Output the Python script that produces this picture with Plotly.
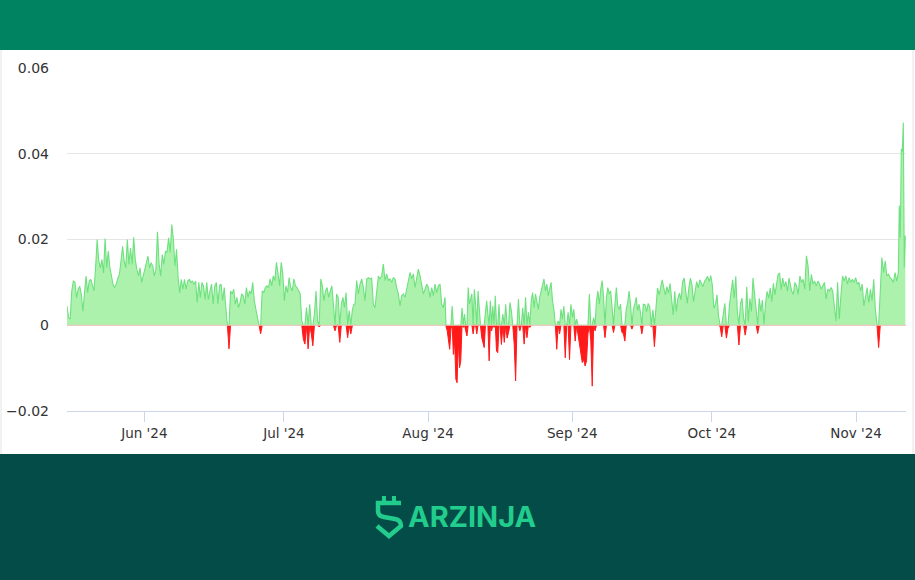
import pandas as pd
import plotly.graph_objects as go

# funding rate readings, one list per stretch of the chart
may_jun = [
    0.0045, 0.0018, 0.0014, 0.008, 0.0103, 0.010, 0.0064, 0.0084, 0.0091, 0.0072,
    0.0033, 0.008, 0.0115, 0.0076, 0.0103, 0.0107, 0.0095, 0.008, 0.0134, 0.020,
    0.015, 0.0134, 0.0153, 0.0122, 0.0202, 0.0134, 0.0173, 0.0134, 0.0115, 0.0095,
    0.0088, 0.0095, 0.011, 0.0118, 0.015, 0.0184, 0.015, 0.0134, 0.020, 0.0142,
    0.018, 0.0142, 0.0205, 0.0153, 0.013, 0.0115, 0.0134, 0.010, 0.0115, 0.013,
    0.0142, 0.0161, 0.0134, 0.0146, 0.0138, 0.0115, 0.013, 0.0218, 0.0142, 0.0115,
    0.0165, 0.0142, 0.0173, 0.017, 0.0204, 0.017, 0.0235, 0.020, 0.0138, 0.0177,
    0.011, 0.0076, 0.0107, 0.0084, 0.0107, 0.0084, 0.0103, 0.0107, 0.010, 0.0103,
    0.0095, 0.0103, 0.0053, 0.010, 0.0064, 0.010, 0.0091, 0.006, 0.010, 0.006,
]
jun_jul = [
    0.008, 0.0096, 0.0049, 0.0092, 0.010, 0.0049, 0.0092, 0.0096, 0.0057, 0.0088,
    0.0041, 0.0, -0.0055, 0.008, 0.0073, 0.0084, 0.0049, 0.0065, 0.0041, 0.0053,
    0.0073, 0.0069, 0.0049, 0.0088, 0.0065, 0.008, 0.0073, 0.010, 0.0057, 0.0041,
    0.0018, 0.0, -0.002, 0.008, 0.0076, 0.0088, 0.0092, 0.0088, 0.0108, 0.0092,
    0.0115, 0.0104, 0.0147, 0.012, 0.0092, 0.0147, 0.012, 0.0057, 0.0092, 0.0076,
    0.0111, 0.0088, 0.008, 0.0108, 0.0092, 0.0088, 0.008, 0.0073, 0.001, -0.0033,
    -0.0044, 0.0041, -0.0055, 0.0049, -0.002, -0.0048, 0.0026, 0.008, 0.001, -0.0004,
    0.0108, 0.0092, 0.0057, 0.008, 0.0088, 0.0065, 0.008, 0.0092, 0.0049, -0.0013,
    0.0073, 0.0065, -0.004, 0.0049, 0.0065, 0.0041, 0.0076, -0.0029, 0.0034, -0.002,
    0.0037, 0.0049,
]
jul_aug = [
    0.0049, 0.0104, 0.0073, 0.0096, 0.0108, 0.0088, 0.0057, 0.0108, 0.0111, 0.0108,
    0.011, 0.0049, 0.0041, 0.008, 0.0115, 0.0108, 0.0115, 0.0143, 0.0104, 0.012,
    0.0104, 0.0108, 0.010, 0.0111, 0.0108, 0.0088, 0.0073, 0.0045, 0.0069, 0.0073,
    0.0065, 0.0084, 0.0104, 0.0123, 0.0108, 0.012, 0.0088, 0.0108, 0.0131, 0.0115,
    0.0096, 0.0073, 0.0084, 0.0096, 0.0088, 0.0065, 0.0088, 0.0069, 0.0096, 0.0076,
    0.0092, 0.0096, 0.0049, 0.0041, 0.0065,
]
aug_dip = [
    -0.0002, -0.0013, -0.0037, -0.0056, -0.0009, 0.0045, -0.0068, -0.0037, -0.0126, -0.0134,
    -0.0037, -0.0099, -0.0083, 0.0041, -0.0005, 0.0026, -0.0013, -0.0025, 0.0088, 0.0049,
    0.0065, 0.0073, -0.002, 0.0084, 0.0049, -0.002, 0.008, 0.0041, -0.0002, -0.0029,
    -0.0044, -0.0052, 0.003, 0.0057, 0.0026, -0.0083, 0.0057, -0.0013, 0.0045, -0.0005,
    0.0069, -0.006, -0.0064, 0.0049,
]
aug_sep = [
    0.0, -0.0045, 0.0026, -0.004, 0.0049, -0.003, -0.0017, 0.0053, 0.0034, 0.0,
    -0.0044, -0.013, 0.0, 0.0061, -0.0013, 0.0, 0.0041, -0.0044, 0.0065, -0.0029,
    0.003, -0.0005, 0.0057, 0.0076, 0.0041, 0.0073, 0.0057, 0.0037, 0.0065, 0.008,
    0.0096, 0.0108, 0.008, 0.0096, 0.0069, 0.0088, 0.010, 0.0057, 0.0037, 0.0,
    -0.0056, 0.001, -0.002, 0.0037, 0.0014, 0.0045, -0.0076, 0.0, 0.003, -0.008,
    0.0049, 0.0018, 0.0037, -0.0037, 0.0014, -0.002, -0.004, -0.0068, -0.0087, -0.008,
    -0.0095, -0.0083, -0.002, 0.0073, -0.0037, -0.0142, 0.0018, -0.0013, 0.0057, 0.008,
    0.0049, 0.0084, 0.0104, 0.0065, -0.0029, 0.0065, 0.0088, 0.0073, 0.008, 0.0041,
    -0.0017, 0.0049, 0.0088, 0.0045, 0.0037, 0.0049, -0.0017, -0.002, -0.0037, 0.0037,
    0.0053, 0.008, 0.0049, -0.0009, 0.0037, 0.0049, 0.0065, 0.0034, 0.0049, 0.003,
    -0.002, 0.0049,
]
sep_oct = [
    0.0048, 0.0032, 0.0051, 0.0044, -0.0003, 0.0036, -0.005, 0.004, 0.0087, 0.0071,
    0.0087, 0.0106, 0.0087, 0.0071, 0.009, 0.0075, 0.0098, 0.0063, 0.0024, 0.0079,
    0.0032, 0.0063, 0.0075, 0.0059, 0.0102, 0.011, 0.0075, 0.0051, 0.0087, 0.011,
    0.0094, 0.0055, 0.0079, 0.0102, 0.0087, 0.0106, 0.0098, 0.009, 0.0102, 0.011,
    0.0114, 0.0102, 0.0116, 0.0094, 0.004, 0.0048, 0.0071, 0.002, -0.0003, -0.0027,
    0.0032, 0.0051, -0.003, -0.0007, 0.0048, 0.0079, 0.0106, 0.0063, 0.0114, 0.0032,
    -0.0046, 0.0051, 0.0063, 0.0016, -0.0023, 0.009, 0.0009, 0.0063, 0.0032, 0.011,
    0.0071, 0.0028, -0.0019, 0.0063, 0.0032, 0.0059, 0.0001, 0.0051, 0.0079, 0.0063,
    0.0087, 0.0055, 0.0098, 0.0071, 0.009, 0.0118, 0.0122, 0.0083, 0.011, 0.009,
    0.0102, 0.0079, 0.011,
]
oct_nov = [
    0.010, 0.008, 0.0072, 0.010, 0.0092, 0.0072, 0.0115, 0.010, 0.0107, 0.0084,
    0.0162, 0.0138, 0.008, 0.0119, 0.0096, 0.0103, 0.0092, 0.0103, 0.0096, 0.0084,
    0.0092, 0.010, 0.0061, 0.0084, 0.008, 0.0088, 0.008, 0.0037, 0.001, 0.010,
    0.0014, 0.0068, 0.0115, 0.0103, 0.0115, 0.0096, 0.0111, 0.010, 0.0107, 0.010,
    0.0111, 0.0096, 0.010, 0.008, 0.0096, 0.0045, 0.0068, 0.0088, 0.0053, 0.0084,
    0.0057, 0.0107, 0.0037, 0.0002, -0.0052, 0.0068, 0.0158, 0.0123, 0.015, 0.0115,
    0.0119, 0.0111, 0.0107, 0.010, 0.0123, 0.0103, 0.0123,
]
nov_spike = [0.0279, 0.0205, 0.0411, 0.0405, 0.0473, 0.0135, 0.0209]

# first and last timestamp of each stretch
periods = [
    ("2024-05-15 09:00", "2024-06-14 18:00", may_jun),
    ("2024-06-15 02:45", "2024-07-16 01:35", jun_jul),
    ("2024-07-16 06:50", "2024-08-04 15:15", jul_aug),
    ("2024-08-04 20:15", "2024-08-16 05:40", aug_dip),
    ("2024-08-16 10:55", "2024-09-16 06:05", aug_sep),
    ("2024-09-16 15:00", "2024-10-17 13:50", sep_oct),
    ("2024-10-17 19:00", "2024-11-10 01:50", oct_nov),
    ("2024-11-10 06:50", "2024-11-11 13:50", nov_spike),
]
x_start, x_end = "2024-05-15 09:00", "2024-11-11 17:25"

times = []
rates = []
for start, end, vals in periods:
    times.extend(pd.date_range(start, end, periods=len(vals)))
    rates.extend(vals)

positive = [r if r > 0 else 0 for r in rates]
negative = []
for i, r in enumerate(rates):
    if r < 0:
        negative.append(r)
    elif (i > 0 and rates[i - 1] < 0) or (i + 1 < len(rates) and rates[i + 1] < 0):
        negative.append(0)
    else:
        negative.append(None)

W, H = 915, 580
ML, MR, MT, MB = 67, 9, 68, 169


def px_x(x):
    return (x - ML) / (W - ML - MR)


def px_y(y):
    return (H - MB - y) / (H - MT - MB)


fig = go.Figure()
fig.add_trace(
    go.Scatter(
        x=times,
        y=positive,
        mode="lines",
        line=dict(color="#6fe080", width=1.1),
        fill="tozeroy",
        fillcolor="rgba(144,238,144,0.75)",
        hoverinfo="skip",
    )
)
fig.add_trace(
    go.Scatter(
        x=times,
        y=negative,
        mode="lines",
        line=dict(color="#ff1a1a", width=1),
        fill="tozeroy",
        fillcolor="rgba(255,0,0,0.9)",
        connectgaps=False,
        hoverinfo="skip",
    )
)

green = "#22cc8c"
shapes = [
    # header and footer bands
    dict(type="rect", xref="paper", yref="paper", x0=px_x(0), x1=px_x(W), y0=px_y(50), y1=px_y(0),
         fillcolor="#008360", line_width=0, layer="above"),
    dict(type="rect", xref="paper", yref="paper", x0=px_x(0), x1=px_x(W), y0=px_y(H), y1=px_y(454),
         fillcolor="#034c47", line_width=0, layer="above"),
    # card borders
    dict(type="line", xref="paper", yref="paper", x0=px_x(1), x1=px_x(1), y0=px_y(454), y1=px_y(50),
         line=dict(color="#e4e4e4", width=1)),
    dict(type="line", xref="paper", yref="paper", x0=px_x(913), x1=px_x(913), y0=px_y(454), y1=px_y(50),
         line=dict(color="#e4e4e4", width=1)),
    # threshold line
    dict(type="line", xref="paper", yref="y", x0=0, x1=1, y0=0, y1=0,
         line=dict(color="#f2c2ba", width=1), layer="above"),
    # logo crown
    dict(type="rect", xref="paper", yref="paper", x0=px_x(382), x1=px_x(386), y0=px_y(503), y1=px_y(496),
         fillcolor=green, line_width=0, layer="above"),
    dict(type="rect", xref="paper", yref="paper", x0=px_x(392), x1=px_x(396), y0=px_y(503), y1=px_y(496),
         fillcolor=green, line_width=0, layer="above"),
]

icon = [("M", [(401, 503)]), ("L", [(378, 503)]), ("L", [(378, 511)]),
        ("Q", [(378, 516), (384, 517)]), ("L", [(395, 519)]),
        ("Q", [(401, 520), (401, 526)]), ("L", [(389, 536)]), ("L", [(377, 526)])]
path = " ".join(
    cmd + " " + " ".join(f"{px_x(x):.5f},{px_y(y):.5f}" for x, y in pts) for cmd, pts in icon
)
shapes.append(dict(type="path", xref="paper", yref="paper", path=path,
                   line=dict(color=green, width=4.5), layer="above"))

fig.update_layout(
    width=W,
    height=H,
    margin=dict(l=ML, r=MR, t=MT, b=MB),
    paper_bgcolor="white",
    plot_bgcolor="white",
    showlegend=False,
    font=dict(family="DejaVu Sans", size=13.5, color="#333333"),
    shapes=shapes,
    annotations=[
        dict(text="ARZINJA", xref="paper", yref="paper", x=px_x(472), y=px_y(516),
             xanchor="center", yanchor="middle", showarrow=False,
             font=dict(family="Inter", size=29, color=green, weight=700)),
    ],
)
fig.update_xaxes(
    type="date",
    range=[x_start, x_end],
    dtick="M1",
    tick0="2024-05-01",
    tickformat="%b '%y",
    showgrid=False,
    showline=True,
    linecolor="#ccd6eb",
    linewidth=1,
    ticks="outside",
    ticklen=10,
    tickcolor="#ccd6eb",
    zeroline=False,
    automargin=False,
)
fig.update_yaxes(
    range=[-0.02, 0.06],
    dtick=0.02,
    tick0=0,
    showgrid=True,
    gridcolor="#e6e6e6",
    gridwidth=1,
    zeroline=False,
    ticklabelstandoff=17,
    tickfont=dict(size=14),
    automargin=False,
)

# pin the figure to the top-left corner of the page (no default body margin)
pin = (
    "document.body.style.margin='0';document.body.style.overflow='hidden';"
    "var d=document.getElementById('{plot_id}');"
    "d.style.position='absolute';d.style.left='0px';d.style.top='0px';"
)
fig.write_html("out.html", config={"displayModeBar": False}, post_script=pin)
